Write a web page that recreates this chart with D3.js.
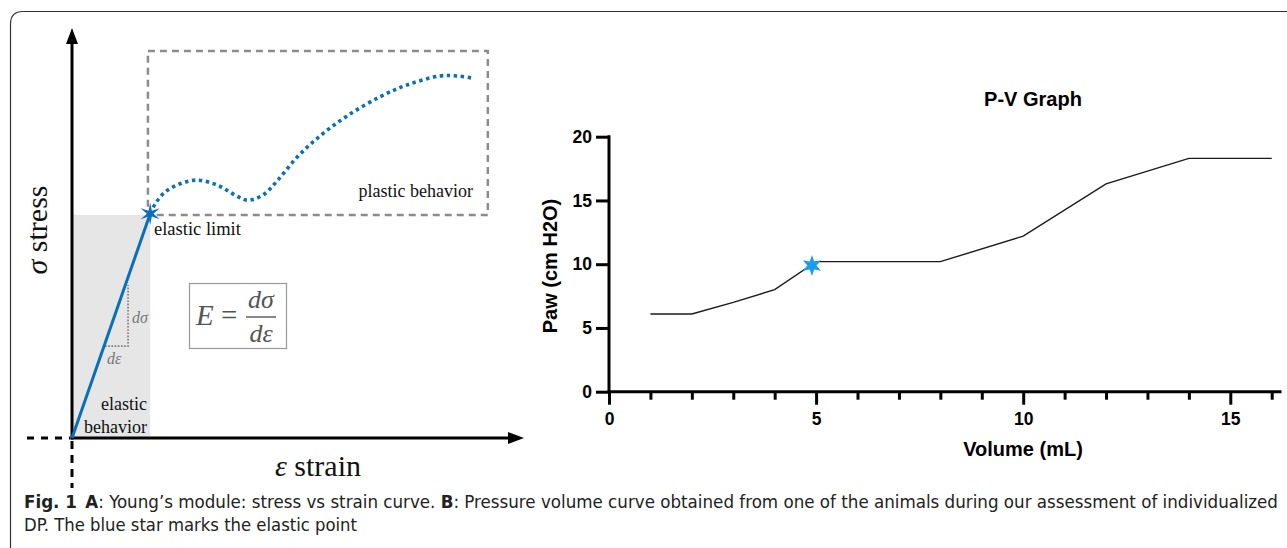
<!DOCTYPE html>
<html>
<head>
<meta charset="utf-8">
<script src="https://cdn.jsdelivr.net/npm/d3@7"></script>
<style>
  body { margin: 0; background: #fff; }
  svg { display: block; }
</style>
</head>
<body>
<svg id="svg" width="1287" height="548"></svg>
<script>
// ---- panel A: stress / strain sketch (arbitrary units) ----
var elasticLimit = [1.73, 5.47];
var plasticStrain = [1.73, 1.84, 2.06, 2.39, 2.77, 3.21, 3.65, 3.89, 4.23, 4.54, 4.98, 5.49, 6.08, 6.81, 7.41, 8.14, 8.52, 8.85];
var plasticStress = [5.47, 5.71, 6.0, 6.2, 6.29, 6.17, 5.9, 5.8, 5.93, 6.27, 6.85, 7.37, 7.85, 8.32, 8.61, 8.83, 8.83, 8.78];
var plasticBox = [1.68, 9.2, 5.44, 9.44]; // x0, x1, y0, y1
var slopeStrain = [0.73, 1.24, 1.24];
var slopeStress = [2.24, 2.24, 3.73];

// ---- panel B: P-V graph ----
var volume = [1, 2, 3, 4, 5, 8, 10, 12, 14, 16];
var paw = [6.1, 6.1, 7.0, 8.0, 10.2, 10.2, 12.2, 16.3, 18.3, 18.3];
var elasticPoint = [4.9, 9.9];
var yTicks = [0, 5, 10, 15, 20];
var xTicks = d3.range(0, 17);
var xLabelled = [0, 5, 10, 15];

var svg = d3.select("#svg");
var blue = "#0b6fb8";
var serif = "'Liberation Serif', 'Times New Roman', serif";
var sans = "'Liberation Sans', Arial, sans-serif";

function starPath(R, r) {
  var pts = [];
  for (var i = 0; i < 12; i++) {
    var a = -Math.PI / 2 + i * Math.PI / 6;
    var rad = i % 2 === 0 ? R : r;
    pts.push([Math.cos(a) * rad, Math.sin(a) * rad]);
  }
  return "M" + pts.join("L") + "Z";
}

// outer frame
svg.append("path")
  .attr("d", "M10.5,548 L10.5,24 Q10.5,11.5 23,11.5 L1287,11.5")
  .attr("fill", "none")
  .attr("stroke", "#333")
  .attr("stroke-width", 1.2);

// ===== panel A =====
var sx = d3.scaleLinear().domain([0, 10]).range([72, 524]);
var sy = d3.scaleLinear().domain([0, 10]).range([438, 28]);

// elastic region
svg.append("rect")
  .attr("x", sx(0)).attr("y", sy(plasticBox[2]))
  .attr("width", sx(elasticLimit[0]) - sx(0))
  .attr("height", sy(0) - sy(plasticBox[2]))
  .attr("fill", "#e6e6e6");

// plastic region box
svg.append("rect")
  .attr("x", sx(plasticBox[0])).attr("y", sy(plasticBox[3]))
  .attr("width", sx(plasticBox[1]) - sx(plasticBox[0]))
  .attr("height", sy(plasticBox[2]) - sy(plasticBox[3]))
  .attr("fill", "none")
  .attr("stroke", "#8c8c8c")
  .attr("stroke-width", 2.5)
  .attr("stroke-dasharray", "7,5");

// dashed extensions of axes
svg.append("line")
  .attr("x1", sx(0)).attr("x2", sx(0)).attr("y1", sy(0) + 3).attr("y2", 488)
  .attr("stroke", "#000").attr("stroke-width", 3).attr("stroke-dasharray", "8,6");
svg.append("line")
  .attr("x1", 27).attr("x2", sx(0) - 2).attr("y1", sy(0)).attr("y2", sy(0))
  .attr("stroke", "#000").attr("stroke-width", 3).attr("stroke-dasharray", "7,7");

// axes with arrows
svg.append("line")
  .attr("x1", sx(0)).attr("x2", sx(0)).attr("y1", sy(0) + 1.5).attr("y2", sy(10) + 10)
  .attr("stroke", "#000").attr("stroke-width", 3);
svg.append("path")
  .attr("d", "M" + sx(0) + "," + sy(10) + " l-6,16 l12,0 Z")
  .attr("fill", "#000");
svg.append("line")
  .attr("x1", sx(0) - 1.5).attr("x2", sx(10) - 10).attr("y1", sy(0)).attr("y2", sy(0))
  .attr("stroke", "#000").attr("stroke-width", 3);
svg.append("path")
  .attr("d", "M" + sx(10) + "," + sy(0) + " l-16,-6 l0,12 Z")
  .attr("fill", "#000");

// slope triangle
svg.append("path")
  .attr("d", d3.line()(slopeStrain.map(function (d, i) { return [sx(d), sy(slopeStress[i])]; })))
  .attr("fill", "none")
  .attr("stroke", "#777")
  .attr("stroke-width", 1.6)
  .attr("stroke-dasharray", "1.6,1.6");

// elastic line
svg.append("line")
  .attr("x1", sx(0)).attr("y1", sy(0))
  .attr("x2", sx(elasticLimit[0])).attr("y2", sy(elasticLimit[1]))
  .attr("stroke", blue).attr("stroke-width", 3);

// plastic curve
var plasticLine = d3.line()
  .x(function (d) { return sx(d[0]); })
  .y(function (d) { return sy(d[1]); })
  .curve(d3.curveCatmullRom);
svg.append("path")
  .datum(plasticStrain.map(function (d, i) { return [d, plasticStress[i]]; }))
  .attr("d", plasticLine)
  .attr("fill", "none")
  .attr("stroke", blue)
  .attr("stroke-width", 3.6)
  .attr("stroke-dasharray", "3.4,3.6");

svg.append("path")
  .attr("d", starPath(11, 3.3))
  .attr("transform", "translate(" + sx(elasticLimit[0]) + "," + sy(elasticLimit[1]) + ")")
  .attr("fill", blue);

// formula box
svg.append("rect")
  .attr("x", 189.5).attr("y", 283.5).attr("width", 97).attr("height", 65)
  .attr("fill", "#fff").attr("stroke", "#999").attr("stroke-width", 1.2);
var fcol = "#555";
svg.append("text").attr("x", 196).attr("y", 325).text("E")
  .style("font-family", serif).style("font-style", "italic").style("font-size", "29px").attr("fill", fcol);
svg.append("text").attr("x", 221).attr("y", 325).text("=")
  .style("font-family", serif).style("font-size", "29px").attr("fill", fcol);
svg.append("line").attr("x1", 246).attr("x2", 276).attr("y1", 317).attr("y2", 317)
  .attr("stroke", fcol).attr("stroke-width", 1.4);
svg.append("text").attr("x", 261).attr("y", 308).attr("text-anchor", "middle").text("dσ")
  .style("font-family", serif).style("font-style", "italic").style("font-size", "26px").attr("fill", fcol);
svg.append("text").attr("x", 261).attr("y", 342).attr("text-anchor", "middle").text("dε")
  .style("font-family", serif).style("font-style", "italic").style("font-size", "26px").attr("fill", fcol);

// small labels
svg.append("text").attr("x", 132).attr("y", 323).text("dσ")
  .style("font-family", serif).style("font-style", "italic").style("font-size", "16px").attr("fill", "#777");
svg.append("text").attr("x", 107).attr("y", 364).text("dε")
  .style("font-family", serif).style("font-style", "italic").style("font-size", "16px").attr("fill", "#777");

function serifText(x, y, t, size, anchor) {
  return svg.append("text").attr("x", x).attr("y", y).attr("text-anchor", anchor || "start")
    .text(t).style("font-family", serif).style("font-size", size + "px").attr("fill", "#111");
}
serifText(154, 235, "elastic limit", 18.5);
serifText(473, 197, "plastic behavior", 18, "end");
serifText(147, 410, "elastic", 18, "end");
serifText(147, 433, "behavior", 18, "end");

var strainLabel = svg.append("text").attr("x", 318).attr("y", 476).attr("text-anchor", "middle")
  .style("font-family", serif).style("font-size", "30px").attr("fill", "#111");
strainLabel.append("tspan").style("font-style", "italic").text("ε");
strainLabel.append("tspan").text(" strain");
var stressLabel = svg.append("text")
  .attr("transform", "translate(47,230) rotate(-90)")
  .attr("text-anchor", "middle")
  .style("font-family", serif).style("font-size", "30px").attr("fill", "#111");
stressLabel.append("tspan").style("font-style", "italic").text("σ");
stressLabel.append("tspan").text(" stress");

// ===== panel B =====
var x = d3.scaleLinear().domain([0, 16.2]).range([609, 1280]);
var y = d3.scaleLinear().domain([0, 20]).range([391.7, 136.7]);

var yAxis = svg.append("g")
  .attr("transform", "translate(" + x(0) + ",0)")
  .call(d3.axisLeft(y).tickValues(yTicks).tickSize(13).tickSizeOuter(0).tickPadding(4));
var xAxis = svg.append("g")
  .attr("transform", "translate(0," + y(0) + ")")
  .call(d3.axisBottom(x).tickValues(xTicks).tickSize(13).tickSizeOuter(0).tickPadding(8));

[yAxis, xAxis].forEach(function (g) {
  g.select(".domain").attr("stroke-width", 3).attr("stroke-linecap", "square");
  g.selectAll(".tick line").attr("stroke-width", 3);
  g.selectAll("text")
    .style("font-family", sans).style("font-weight", "bold").style("font-size", "17.5px")
    .attr("fill", "#000");
});
xAxis.select(".domain").attr("d", "M" + x(0) + ",0H" + x(16.2));
yAxis.select(".domain").attr("d", "M0," + y(0) + "V" + y(20));
xAxis.selectAll(".tick")
  .filter(function (d) { return xLabelled.indexOf(d) < 0; })
  .each(function () {
    d3.select(this).select("line").attr("y2", 8);
    d3.select(this).select("text").remove();
  });

var pvLine = d3.line()
  .x(function (d) { return x(d[0]); })
  .y(function (d) { return y(d[1]); });
svg.append("path")
  .datum(volume.map(function (d, i) { return [d, paw[i]]; }))
  .attr("d", pvLine)
  .attr("fill", "none")
  .attr("stroke", "#1a1a1a")
  .attr("stroke-width", 1.4);

svg.append("path")
  .attr("d", starPath(10.5, 4.6))
  .attr("transform", "translate(" + x(elasticPoint[0]) + "," + y(elasticPoint[1]) + ")")
  .attr("fill", "#1c9cf0");

svg.append("text")
  .attr("x", 1033).attr("y", 106).attr("text-anchor", "middle")
  .text("P-V Graph")
  .style("font-family", sans).style("font-weight", "bold").style("font-size", "20px");
svg.append("text")
  .attr("x", 1023).attr("y", 456).attr("text-anchor", "middle")
  .text("Volume (mL)")
  .style("font-family", sans).style("font-weight", "bold").style("font-size", "20px");
svg.append("text")
  .attr("transform", "translate(557,266) rotate(-90)")
  .attr("text-anchor", "middle")
  .text("Paw (cm H2O)")
  .style("font-family", sans).style("font-weight", "bold").style("font-size", "20px");

// ===== caption =====
var capFont = "'Liberation Sans Narrow', 'DejaVu Sans Condensed', 'Open Sans', sans-serif";
var cap1 = svg.append("text").attr("x", 24).attr("y", 508)
  .attr("textLength", 1254).attr("lengthAdjust", "spacingAndGlyphs")
  .style("font-family", capFont).style("font-size", "17px").attr("fill", "#222");
cap1.append("tspan").style("font-weight", "bold").text("Fig. 1");
cap1.append("tspan").text("\u2002");
cap1.append("tspan").style("font-weight", "bold").text("A");
cap1.append("tspan").text(": Young\u2019s module: stress vs strain curve. ");
cap1.append("tspan").style("font-weight", "bold").text("B");
cap1.append("tspan").text(": Pressure volume curve obtained from one of the animals during our assessment of individualized");
svg.append("text").attr("x", 24).attr("y", 531)
  .attr("textLength", 333).attr("lengthAdjust", "spacingAndGlyphs")
  .text("DP. The blue star marks the elastic point")
  .style("font-family", capFont).style("font-size", "17px").attr("fill", "#222");
</script>
</body>
</html>
